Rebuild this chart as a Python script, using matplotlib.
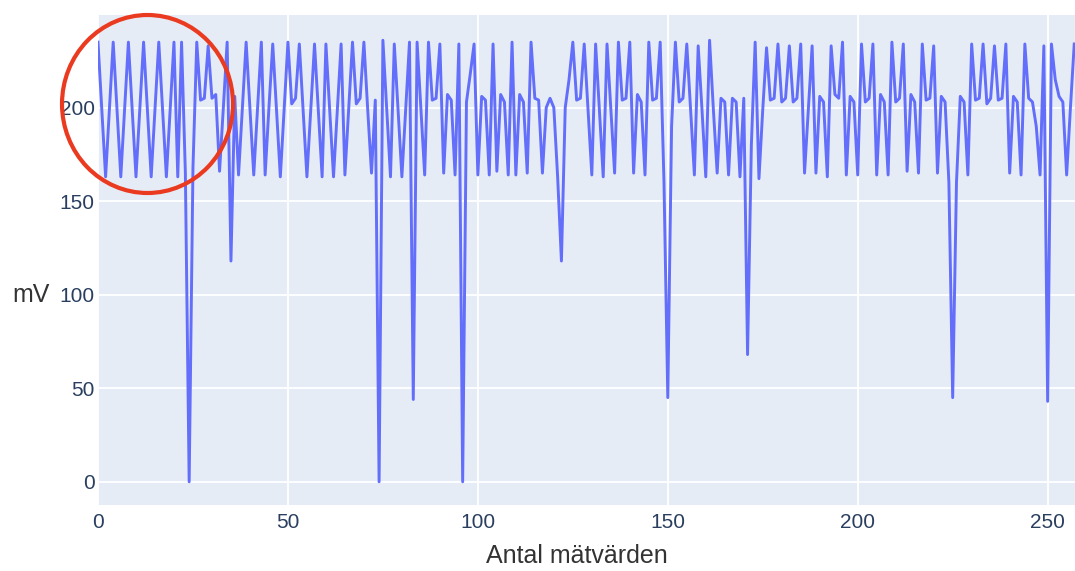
import numpy as np
import matplotlib
matplotlib.use("Agg")
import matplotlib.pyplot as plt
from matplotlib.patches import Ellipse

# Measured values (mV), one per sample index
mv = [
    235, 199, 163, 199, 235, 199, 163, 199, 235, 199, 163, 199, 235, 199, 163, 199, 235, 199, 163, 199,
    235, 163, 235, 165, 0, 168, 235, 204, 205, 233, 205, 207, 166, 200, 235, 118, 206, 164, 200, 235,
    199, 164, 200, 235, 164, 200, 234, 199, 163, 199, 235, 202, 205, 234, 199, 163, 199, 234, 199, 163,
    234, 199, 163, 199, 234, 164, 199, 235, 202, 205, 235, 199, 165, 204, 0, 236, 199, 163, 234, 199,
    163, 199, 235, 44, 235, 199, 164, 235, 204, 205, 234, 165, 207, 204, 164, 234, 0, 203, 218, 234,
    164, 206, 204, 164, 234, 166, 207, 203, 164, 235, 164, 207, 203, 165, 235, 205, 204, 165, 200, 205,
    200, 163, 118, 200, 215, 235, 204, 205, 234, 199, 164, 234, 199, 163, 234, 199, 165, 235, 204, 205,
    235, 165, 207, 203, 164, 235, 204, 205, 235, 160, 45, 190, 235, 203, 205, 234, 199, 164, 233, 199,
    163, 236, 199, 165, 205, 203, 164, 205, 203, 163, 205, 68, 180, 235, 162, 199, 232, 204, 205, 234,
    203, 205, 233, 203, 205, 234, 165, 199, 233, 165, 206, 203, 163, 233, 207, 205, 235, 164, 206, 203,
    164, 234, 203, 205, 234, 164, 207, 203, 164, 235, 203, 205, 234, 166, 207, 203, 165, 234, 204, 205,
    233, 165, 206, 203, 160, 45, 160, 206, 203, 164, 234, 204, 205, 234, 202, 205, 233, 204, 205, 234,
    165, 206, 203, 164, 234, 205, 203, 190, 164, 233, 43, 234, 215, 206, 203, 164, 200, 234,
]
samples = np.arange(len(mv))

x_ticks = [0, 50, 100, 150, 200, 250]
y_ticks = [0, 50, 100, 150, 200]

plt.rcParams['font.family'] = ['Liberation Sans', 'DejaVu Sans']

fig = plt.figure(figsize=(10.75, 5.71), dpi=100)
ax = fig.add_axes([98 / 1075, 1 - 505 / 571, 977 / 1075, 490 / 571])
ax.set_facecolor('#e5ecf6')

ax.plot(samples, mv, color='#636efa', linewidth=2.1, zorder=3)

ax.set_xlim(0, 257.2)
ax.set_ylim(-12.4, 249.5)
ax.set_xticks(x_ticks)
ax.set_yticks(y_ticks)
ax.grid(True, color='white', linewidth=1.3, zorder=1)
ax.set_axisbelow(True)
ax.tick_params(length=0, labelsize=15, labelcolor='#2a3f5f')
ax.tick_params(axis='y', pad=2.5)
ax.tick_params(axis='x', pad=6)
for spine in ax.spines.values():
    spine.set_visible(False)

ax.set_xlabel('Antal mätvärden', fontsize=18, color='#333333', va='center')
ax.set_ylabel('mV', fontsize=18, color='#333333', rotation=0, ha='center', va='center')
ax.xaxis.set_label_coords((577 - 98) / 977, (505 - 556) / 490)
ax.yaxis.set_label_coords((31 - 98) / 977, (505 - 295) / 490)

# red circle highlighting the start of the signal
circle = Ellipse((147.5 / 1075, 1 - 104 / 571), 171 / 1075, 178 / 571,
                 transform=fig.transFigure, fill=False, edgecolor='#ea3a20',
                 linewidth=3.0, zorder=10, clip_on=False)
fig.patches.append(circle)

fig.savefig('out.png', dpi=100)
